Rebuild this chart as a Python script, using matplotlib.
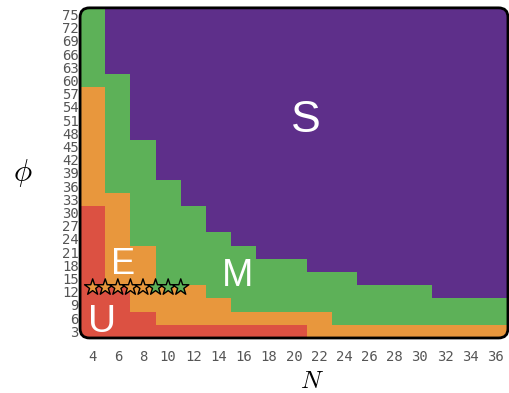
import numpy as np
import matplotlib
matplotlib.use("Agg")
import matplotlib.pyplot as plt
from matplotlib.colors import ListedColormap
from matplotlib.patches import FancyBboxPatch

plt.rcParams['mathtext.fontset'] = 'cm'

# grid axes
N_vals = np.arange(4, 37, 2)
phi_vals = np.arange(3, 76, 3)

# upper phi of each phase per N column (0 = phase absent)
u_top = [30, 12, 6, 3, 3, 3, 3, 3, 3, 0, 0, 0, 0, 0, 0, 0, 0]
e_top = [57, 33, 21, 12, 12, 9, 6, 6, 6, 6, 3, 3, 3, 3, 3, 3, 3]
m_top = [75, 60, 45, 36, 30, 24, 21, 18, 18, 15, 15, 12, 12, 12, 9, 9, 9]

# starred points
star_N = [4, 5, 6, 7, 8, 9, 10, 11]
star_phi = 13
star_phase = ['E', 'E', 'E', 'E', 'E', 'M', 'M', 'M']

phase_colors = {'U': '#dc5142', 'E': '#e8973d', 'M': '#5db158', 'S': '#5e2f8a'}
phase_order = ['U', 'E', 'M', 'S']

grid = np.zeros((len(phi_vals), len(N_vals)), dtype=int)
for j, n in enumerate(N_vals):
    for i, p in enumerate(phi_vals):
        if p <= u_top[j]:
            grid[i, j] = 0
        elif p <= e_top[j]:
            grid[i, j] = 1
        elif p <= m_top[j]:
            grid[i, j] = 2
        else:
            grid[i, j] = 3

cmap = ListedColormap([phase_colors[k] for k in phase_order])

fig = plt.figure(figsize=(5.1, 3.93), dpi=100)
ax = fig.add_axes([0.157, 0.140, 0.839, 0.840])

x_edges = np.append(N_vals - 1, N_vals[-1] + 1)
y_edges = np.append(phi_vals - 1.5, phi_vals[-1] + 1.5)
mesh = ax.pcolormesh(x_edges, y_edges, grid, cmap=cmap, vmin=-0.5, vmax=3.5)

ax.set_xlim(x_edges[0], x_edges[-1])
ax.set_ylim(y_edges[0], y_edges[-1])

# rounded frame
w_px, h_px = 428, 330
frame = FancyBboxPatch((0, 0), 1, 1, boxstyle="round,pad=0,rounding_size=0.022",
                       mutation_aspect=w_px / h_px, transform=ax.transAxes,
                       facecolor='none', edgecolor='black', linewidth=2,
                       zorder=5, clip_on=False)
ax.add_patch(frame)
mesh.set_clip_path(frame)

ax.scatter(star_N, [star_phi] * len(star_N), marker='*', s=150,
           c=[phase_colors[k] for k in star_phase], edgecolors='black',
           linewidths=1.0, zorder=4)

for lbl, x, y, size in [('S', 20.9, 52, 32), ('M', 15.5, 16.5, 27),
                        ('E', 6.4, 19.2, 26), ('U', 4.75, 6, 28)]:
    ax.text(x, y, lbl, color='white', fontsize=size, ha='center',
            va='center_baseline', family='Liberation Sans', zorder=6)

for s in ax.spines.values():
    s.set_visible(False)

ax.set_xticks(N_vals)
ax.set_yticks(phi_vals)
ax.tick_params(length=0, labelsize=10, labelcolor='#555555')
ax.tick_params(axis='x', pad=9)
ax.tick_params(axis='y', pad=1)
for t in ax.get_xticklabels() + ax.get_yticklabels():
    t.set_family('DejaVu Sans Mono')

ax.set_xlabel('$N$', fontsize=18, va='center')
ax.xaxis.set_label_coords(0.542, -0.13)
ax.set_ylabel(r'$\phi$', fontsize=22, rotation=0, va='center', ha='center')
ax.yaxis.set_label_coords(-0.135, 0.5)

fig.savefig('out.png', dpi=100)
